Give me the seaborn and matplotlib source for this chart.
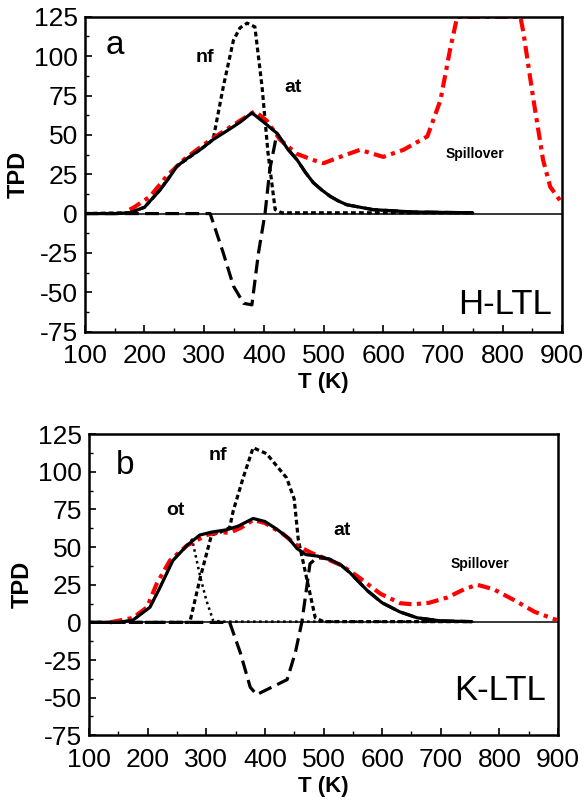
import numpy as np
import pandas as pd
import matplotlib
matplotlib.use("Agg")
import matplotlib.pyplot as plt
from matplotlib.ticker import MultipleLocator
import seaborn as sns

# ---- panel a : H-LTL ----
T_a_tot = [100, 150, 175, 200, 226, 240, 254, 275, 293, 315, 340, 360, 380, 400, 422, 440, 456, 470, 483, 497, 511, 525, 539, 583, 650, 750]
tot_a = [0, 0, 0.5, 4, 15, 22, 30, 36, 40.5, 47, 53, 58, 64, 58, 51, 41, 34, 26, 19.6, 15, 11, 8, 5.6, 2.5, 1, 0.5]

T_a_red = [175, 181, 209, 237, 265, 293, 315, 340, 360, 385, 405, 427, 455, 483, 500, 528, 561, 600, 634, 674, 696, 712, 724, 830, 835, 852, 868, 880, 897]
red_a = [2.5, 3.6, 10.7, 23.6, 34, 42, 48, 54, 59, 65, 59, 47, 38, 34, 32, 36, 40.5, 36, 40.5, 49, 72, 104, 125, 125, 115, 72, 34, 17, 8]

T_a_nf = [100, 175, 200, 226, 254, 293, 315, 332, 349, 360, 372, 385, 397, 407, 419, 430, 750]
nf_a = [0, 0.5, 4, 15, 30, 40.5, 47, 80.5, 110, 118, 121, 118.6, 80.6, 38.6, 2.5, 0.5, 0.5]

T_a_at = [100, 310, 332, 349, 366, 380, 391, 402, 410, 422, 440, 456, 470, 483, 497, 511, 525, 539, 583, 650, 750]
at_a = [0, 0, -25, -46, -57, -58, -25, 0, 28, 51, 41, 34, 26, 19.6, 15, 11, 8, 5.6, 2.5, 1, 0.5]

# ---- panel b : K-LTL ----
T_b_tot = [100, 150, 175, 204, 221, 243, 267, 289, 310, 335, 355, 380, 400, 420, 440, 455, 470, 490, 510, 530, 545, 575, 600, 630, 660, 700, 753]
tot_b = [0, 0, 1.5, 10, 23, 41, 51, 58, 60, 61.5, 64, 69, 67, 62, 56, 49, 45, 44, 42, 38, 33, 21, 13, 7, 3, 1, 0.5]

T_b_red = [136, 175, 199, 216, 238, 267, 301, 320, 340, 360, 380, 400, 430, 455, 480, 500, 530, 560, 597, 631, 653, 680, 711, 740, 762, 790, 824, 860, 898]
red_b = [0, 3, 10, 26, 41, 51, 58, 60, 59.5, 63, 68, 66, 59, 51, 46, 43, 38, 30, 19, 12.7, 12, 13, 16.5, 22, 25, 22, 15, 7, 1.5]

T_b_ot = [100, 150, 175, 204, 221, 243, 267, 276, 290, 300, 312, 330, 750]
ot_b = [0, 0, 1.5, 10, 23, 41, 51, 55, 30, 15, 1, 0.5, 0.5]

T_b_nf = [100, 272, 290, 309, 325, 340, 346, 363, 380, 403, 437, 450, 457, 472, 486, 500, 750]
nf_b = [0, 0, 30, 58, 60, 63, 74, 96, 116, 112, 96, 82, 55, 28, 3, 0.5, 0.5]

T_b_at = [100, 340, 358, 375, 386, 438, 452, 463, 477, 489, 500, 510, 530, 545, 575, 600, 630, 660, 700, 753]
at_b = [0, 0, -20, -43, -48, -38, -20, 0, 39, 43, 42.5, 42, 38, 33, 21, 13, 7, 3, 1, 0.5]

x_ticks = [100, 200, 300, 400, 500, 600, 700, 800, 900]
y_ticks = [-75, -50, -25, 0, 25, 50, 75, 100, 125]

sns.set_style("ticks")
plt.rcParams['font.family'] = ['Liberation Sans', 'DejaVu Sans']
plt.rcParams['axes.unicode_minus'] = False
plt.rcParams['xtick.direction'] = 'in'
plt.rcParams['ytick.direction'] = 'in'
for k in ['text.color', 'axes.labelcolor', 'xtick.color', 'ytick.color', 'axes.edgecolor']:
    plt.rcParams[k] = 'black'

RED = (0, (3, 1.3, 1, 1.3))
NF = (0, (1.5, 1.0))
AT = (0, (4.3, 2))
OT = (0, (1, 1.4))


def curve(ax, x, y, color, lw, ls):
    sns.lineplot(x=x, y=y, ax=ax, color=color, lw=lw, linestyle=ls,
                 sort=False, estimator=None)


def style_axes(ax):
    ax.set_xlim(100, 900)
    ax.set_ylim(-75, 125)
    ax.set_xticks(x_ticks)
    ax.set_yticks(y_ticks)
    ax.xaxis.set_minor_locator(MultipleLocator(50))
    ax.yaxis.set_minor_locator(MultipleLocator(12.5))
    ax.tick_params(which='major', length=5, width=1.2, labelsize=19)
    ax.tick_params(axis='x', which='major', pad=9)
    ax.tick_params(axis='y', which='major', pad=5)
    ax.tick_params(which='minor', length=3, width=1)
    for s in ax.spines.values():
        s.set_linewidth(1.8)
        s.set_visible(True)
    ax.axhline(0, color='black', lw=1.1, zorder=1)
    ax.set_xlabel("T (K)", fontsize=16, fontweight='bold', labelpad=3)
    ax.set_ylabel("TPD", fontsize=17, fontweight='bold', labelpad=3)


fig = plt.figure(figsize=(5.85, 8.01), dpi=100)
ax1 = fig.add_axes([0.145, 0.586, 0.816, 0.393])
ax2 = fig.add_axes([0.152, 0.082, 0.802, 0.376])

# panel a
curve(ax1, T_a_nf, nf_a, 'black', 2.3, NF)
curve(ax1, T_a_at, at_a, 'black', 2.3, AT)
curve(ax1, T_a_red, red_a, 'red', 3.0, RED)
curve(ax1, T_a_tot, tot_a, 'black', 2.3, '-')
style_axes(ax1)
ax1.text(150, 107, "a", fontsize=24, ha='center', va='center')
ax1.text(301, 99, "nf", fontsize=14, fontweight='bold', ha='center', va='center')
ax1.text(449, 80, "at", fontsize=14, fontweight='bold', ha='center', va='center')
ax1.text(754, 38, "Spillover", fontsize=10, fontweight='bold', ha='center', va='center')
ax1.text(805, -58, "H-LTL", fontsize=25, ha='center', va='center')

# panel b
curve(ax2, T_b_ot, ot_b, 'black', 1.8, OT)
curve(ax2, T_b_nf, nf_b, 'black', 2.3, NF)
curve(ax2, T_b_at, at_b, 'black', 2.3, AT)
curve(ax2, T_b_red, red_b, 'red', 3.0, RED)
curve(ax2, T_b_tot, tot_b, 'black', 2.3, '-')
style_axes(ax2)
ax2.text(161, 104, "b", fontsize=24, ha='center', va='center')
ax2.text(247, 74, "ot", fontsize=14, fontweight='bold', ha='center', va='center')
ax2.text(320, 111, "nf", fontsize=14, fontweight='bold', ha='center', va='center')
ax2.text(532, 61, "at", fontsize=14, fontweight='bold', ha='center', va='center')
ax2.text(767, 39, "Spillover", fontsize=10, fontweight='bold', ha='center', va='center')
ax2.text(801, -45, "K-LTL", fontsize=25, ha='center', va='center')

fig.savefig("out.png", dpi=100)
